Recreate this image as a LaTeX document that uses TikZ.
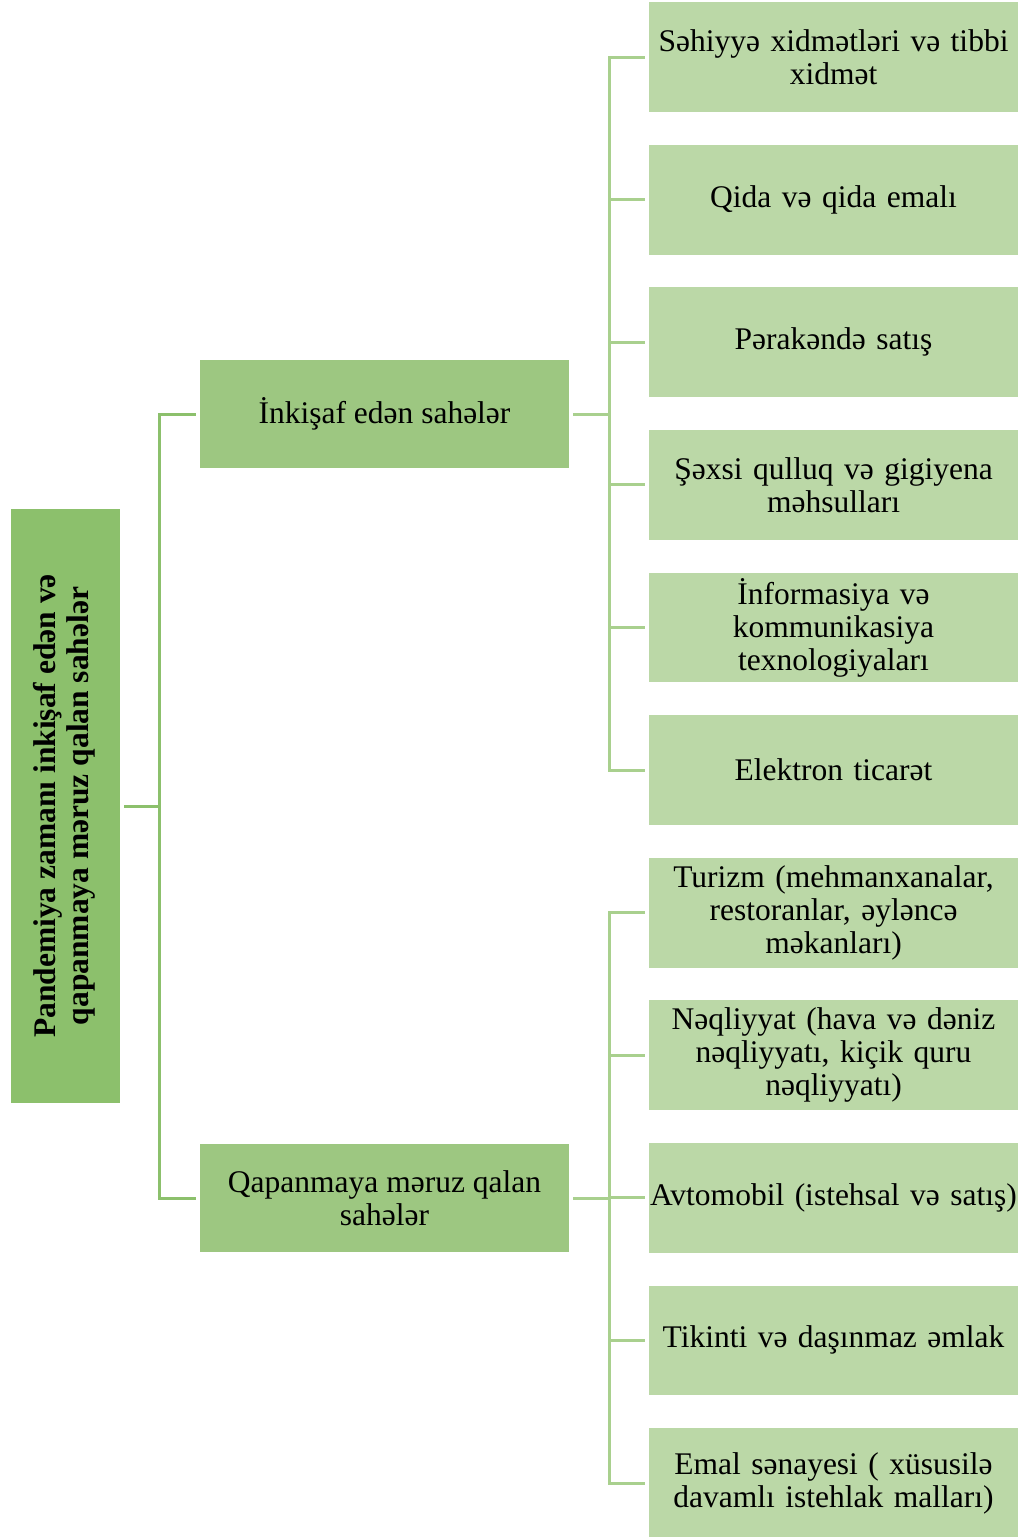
\documentclass[tikz,border=0pt]{standalone}
\usepackage{fontspec}
\setmainfont{Liberation Serif}
\usetikzlibrary{positioning}
\definecolor{rootgreen}{HTML}{8CC06C}
\definecolor{midgreen}{HTML}{9DC781}
\definecolor{leafgreen}{HTML}{BBD8A7}
\definecolor{linkgreen}{HTML}{A9D08E}
\tikzstyle{box}=[draw=white,line width=1.2pt,inner sep=0pt,outer sep=3pt,
  align=center,font=\fontsize{31.5}{33}\selectfont]
\tikzstyle{rootbox}=[box,fill=rootgreen,minimum width=111,minimum height=596,
  font=\bfseries\fontsize{31.5}{33.5}\selectfont]
\tikzstyle{midbox}=[box,fill=midgreen,minimum width=371,minimum height=110]
\tikzstyle{leaf}=[box,fill=leafgreen,minimum width=371,minimum height=111,
  text width=368]
\tikzstyle{link}=[line width=3pt,rootgreen]
\tikzstyle{link2}=[line width=3pt,linkgreen]

\begin{document}
\begin{tikzpicture}[x=1pt,y=-1pt,node distance=142.6pt,on grid]
  \useasboundingbox (0,0) rectangle (1027,1537);
  \clip (0,0) rectangle (1027,1537);

  \node[rootbox] (root) at (65.5,806) {\rotatebox{90}{\begin{tabular}{@{}c@{}}Pandemiya zamanı inkişaf edən və\\qapanmaya məruz qalan sahələr\end{tabular}}};

  \node[midbox] (inc) at (384.5,414) {İnkişaf edən sahələr};
  \node[midbox] (qap) at (384.5,1198) {Qapanmaya məruz qalan\\sahələr};

  \node[leaf] (sah) at (833.5,57) {Səhiyyə xidmətləri və tibbi\\xidmət};
  \node[leaf, below=of sah] (qid) {Qida və qida emalı};
  \node[leaf, below=of qid] (per) {Pərakəndə satış};
  \node[leaf, below=of per] (sex) {Şəxsi qulluq və gigiyena\\məhsulları};
  \node[leaf, below=of sex] (ikt) {İnformasiya və\\kommunikasiya\\texnologiyaları};
  \node[leaf, below=of ikt] (ele) {Elektron ticarət};

  \node[leaf, below=of ele] (tur) {Turizm (mehmanxanalar,\\restoranlar, əyləncə\\məkanları)};
  \node[leaf, below=of tur] (neq) {Nəqliyyat (hava və dəniz\\nəqliyyatı, kiçik quru\\nəqliyyatı)};
  \node[leaf, below=of neq] (avt) {Avtomobil (istehsal və satış)};
  \node[leaf, below=of avt] (tik) {Tikinti və daşınmaz əmlak};
  \node[leaf, below=of tik] (ema) {Emal sənayesi ( xüsusilə\\davamlı istehlak malları)};

  \draw[link] (root.east) -- +(35,0) |- (inc.west);
  \draw[link] (root.east) -- +(35,0) |- (qap.west);

  \draw[link2] (inc.east) -- +(36,0) |- (sah.west);
  \draw[link2] (inc.east) -- +(36,0) |- (qid.west);
  \draw[link2] (inc.east) -- +(36,0) |- (per.west);
  \draw[link2] (inc.east) -- +(36,0) |- (sex.west);
  \draw[link2] (inc.east) -- +(36,0) |- (ikt.west);
  \draw[link2] (inc.east) -- +(36,0) |- (ele.west);

  \draw[link2] (qap.east) -- +(36,0) |- (tur.west);
  \draw[link2] (qap.east) -- +(36,0) |- (neq.west);
  \draw[link2] (qap.east) -- +(36,0) |- (avt.west);
  \draw[link2] (qap.east) -- +(36,0) |- (tik.west);
  \draw[link2] (qap.east) -- +(36,0) |- (ema.west);
\end{tikzpicture}
\end{document}
